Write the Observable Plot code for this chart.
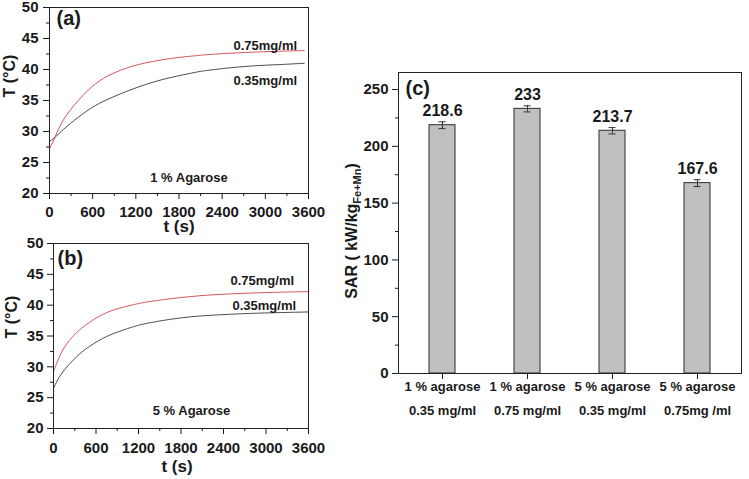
<!DOCTYPE html>
<html><head><meta charset="utf-8">
<script src="https://cdn.jsdelivr.net/npm/d3@7"></script>
<script src="https://cdn.jsdelivr.net/npm/@observablehq/plot@0.6"></script>
<style>
body{margin:0;background:#fff;}
#root{position:relative;width:749px;height:479px;overflow:hidden;background:#fff;}
.panel{position:absolute;}
</style></head><body><div id="root"></div>
<script>
// ---- Panel (a): 1 % agarose heating curves ----
const timeA    = [0, 80, 200, 400, 640, 870, 1100, 1330, 1560, 1800, 2030, 2260, 2730, 3200, 3540];
const tempA075 = [27.2, 29.2, 32.0, 35.0, 37.7, 39.3, 40.35, 41.05, 41.55, 41.95, 42.22, 42.45, 42.75, 42.95, 43.05];
const tempA035 = [28.4, 29.1, 30.4, 32.3, 34.2, 35.5, 36.6, 37.55, 38.35, 39.0, 39.55, 39.95, 40.5, 40.8, 41.0];
// ---- Panel (b): 5 % agarose heating curves ----
const timeB    = [0, 60, 160, 280, 400, 630, 870, 1100, 1340, 1810, 2280, 2750, 3200, 3600];
const tempB075 = [29.2, 31.0, 33.3, 35.0, 36.3, 38.1, 39.3, 40.0, 40.55, 41.25, 41.7, 41.95, 42.1, 42.2];
const tempB035 = [26.5, 27.9, 29.6, 31.1, 32.4, 34.2, 35.5, 36.4, 37.1, 37.95, 38.4, 38.65, 38.8, 38.9];
// ---- Axis ticks ----
const timeTicks      = [0, 600, 1200, 1800, 2400, 3000, 3600];
const timeMinorTicks = [300, 900, 1500, 2100, 2700, 3300];
const tempTicks      = [20, 25, 30, 35, 40, 45, 50];
const tempMinorTicks = [22.5, 27.5, 32.5, 37.5, 42.5, 47.5];
// ---- Panel (c): SAR bars ----
const sarCategories = ["1 % agarose\n0.35 mg/ml", "1 % agarose\n0.75 mg/ml", "5 % agarose\n0.35 mg/ml", "5 % agarose\n0.75mg /ml"];
const sarValues = [218.6, 233, 213.7, 167.6];
const sarErrors = [3, 2.7, 2.8, 3];
const sarTicks = [0, 50, 100, 150, 200, 250];
const sarMinorTicks = [25, 75, 125, 175, 225];

const FONT = "'Liberation Sans', Arial, Helvetica, sans-serif";
const INK = "#1a1a1a";
const RED = "#cf4545";
const DARK = "#3a3a3a";

function addPanel(el, left, top) {
  const d = document.createElement("div");
  d.className = "panel";
  d.style.left = left + "px";
  d.style.top = top + "px";
  d.appendChild(el);
  document.getElementById("root").appendChild(d);
  return el;
}

function tempPanel(o) {
  const rows075 = o.time.map((t, i) => ({t, T: o.t075[i]}));
  const rows035 = o.time.map((t, i) => ({t, T: o.t035[i]}));
  const bold = {fontWeight: "bold", fill: INK, lineAnchor: "middle"};
  return Plot.plot({
    width: o.width, height: o.height,
    marginLeft: o.ml, marginRight: o.mr, marginTop: o.mt, marginBottom: o.mb,
    style: {background: "none", overflow: "visible", fontFamily: FONT, color: INK},
    x: {domain: [0, 3600]},
    y: {domain: [20, 50]},
    marks: [
      Plot.line(rows035, {x: "t", y: "T", stroke: DARK, strokeWidth: 0.9, curve: "natural"}),
      Plot.line(rows075, {x: "t", y: "T", stroke: RED, strokeWidth: 0.9, curve: "natural"}),
      Plot.frame({stroke: "#222", strokeWidth: 1}),
      Plot.axisX({ticks: timeTicks, tickSize: 6, tickPadding: o.xPad, fontSize: 15, fontWeight: "bold", tickFormat: d => String(d), label: null}),
      Plot.axisX({ticks: timeMinorTicks, tickSize: 3, tickFormat: () => "", label: null}),
      Plot.axisY({ticks: tempTicks, tickSize: 6, tickPadding: o.yPad, fontSize: 15, fontWeight: "bold", tickFormat: d => String(d), label: null}),
      Plot.axisY({ticks: tempMinorTicks, tickSize: 3, tickFormat: () => "", label: null}),
      Plot.text([o.tag], {frameAnchor: "top-left", textAnchor: "start", dx: o.tagDx, dy: o.tagDy, fontSize: 20, ...bold}),
      Plot.text(["0.75mg/ml"], {frameAnchor: "top-left", textAnchor: "start", dx: o.c1Dx, dy: o.c1Dy, fontSize: 13, ...bold}),
      Plot.text(["0.35mg/ml"], {frameAnchor: "top-left", textAnchor: "start", dx: o.c2Dx, dy: o.c2Dy, fontSize: 13, ...bold}),
      Plot.text([o.agarose], {frameAnchor: "bottom", dx: o.agDx, dy: o.agDy, fontSize: 13, ...bold}),
      Plot.text(["t (s)"], {frameAnchor: "bottom", dx: o.tsDx, dy: o.tsDy, fontSize: 17, ...bold}),
      Plot.text(["T (°C)"], {frameAnchor: "left", rotate: -90, dx: o.TDx, dy: o.TDy, fontSize: 16, ...bold})
    ]
  });
}

addPanel(tempPanel({
  time: timeA, t075: tempA075, t035: tempA035,
  width: 320, height: 240, ml: 49, mr: 12, mt: 7, mb: 47,
  xPad: 6.5, yPad: 5,
  tag: "(a)", tagDx: 7, tagDy: 11,
  c1Dx: 184, c1Dy: 38, c2Dx: 184, c2Dy: 73,
  agarose: "1 % Agarose", agDx: 10, agDy: -16,
  tsDx: 0, tsDy: 33, TDx: -40, TDy: -3
}), 0, 0);

addPanel(tempPanel({
  time: timeB, t075: tempB075, t035: tempB035,
  width: 320, height: 249, ml: 53, mr: 12, mt: 13, mb: 51,
  xPad: 7.5, yPad: 4,
  tag: "(b)", tagDx: 4, tagDy: 15,
  c1Dx: 177, c1Dy: 37, c2Dx: 179, c2Dy: 62,
  agarose: "5 % Agarose", agDx: 10.5, agDy: -18,
  tsDx: -4, tsDy: 38, TDx: -42, TDy: 2.5
}), 0, 230);

// ---- Panel (c) ----
const sarData = sarCategories.map((category, i) => ({category, value: sarValues[i], err: sarErrors[i]}));
const barPlot = Plot.plot({
  width: 409, height: 479,
  marginLeft: 58, marginRight: 8, marginTop: 72, marginBottom: 106,
  style: {background: "none", overflow: "visible", fontFamily: FONT, color: INK},
  x: {domain: sarCategories, paddingInner: 0.7, paddingOuter: 0.35},
  y: {domain: [0, 265]},
  marks: [
    Plot.barY(sarData, {x: "category", y: "value", fill: "#c0c0c0", stroke: "#2b2b2b", strokeWidth: 1}),
    Plot.ruleX(sarData, {x: "category", y1: d => d.value - d.err, y2: d => d.value + d.err, stroke: "#333", strokeWidth: 1}),
    Plot.tickY(sarData, {x: "category", y: d => d.value + d.err, stroke: "#333", insetLeft: 9.5, insetRight: 9.5}),
    Plot.tickY(sarData, {x: "category", y: d => d.value - d.err, stroke: "#333", insetLeft: 9.5, insetRight: 9.5}),
    Plot.text(sarData, {x: "category", y: "value", text: d => String(d.value), dy: -14, fontSize: 16, fontWeight: "bold", fill: INK, lineAnchor: "middle"}),
    Plot.frame({stroke: "#222", strokeWidth: 1}),
    Plot.axisY({ticks: sarTicks, tickSize: 6, tickPadding: 4, fontSize: 15, fontWeight: "bold", tickFormat: d => String(d), label: null}),
    Plot.axisY({ticks: sarMinorTicks, tickSize: 3, tickFormat: () => "", label: null}),
    Plot.axisX({tickSize: 6, tickPadding: -5.5, fontSize: 13, fontWeight: "bold", lineHeight: 1.85, label: null}),
    Plot.text(["(c)"], {frameAnchor: "top-left", textAnchor: "start", lineAnchor: "middle", dx: 7, dy: 16, fontSize: 20, fontWeight: "bold", fill: INK})
  ]
});
addPanel(barPlot, 340, 0);

// y-axis title with subscript
const t = d3.select(barPlot).append("text")
  .attr("transform", "translate(17,231) rotate(-90)")
  .attr("text-anchor", "middle")
  .attr("font-family", FONT)
  .attr("font-size", 16)
  .attr("font-weight", "bold")
  .attr("fill", INK);
t.append("tspan").text("SAR ( kW/kg");
t.append("tspan").attr("font-size", 11).attr("dy", 4).text("Fe+Mn");
t.append("tspan").attr("dy", -4).text(")");
</script>
</body></html>
